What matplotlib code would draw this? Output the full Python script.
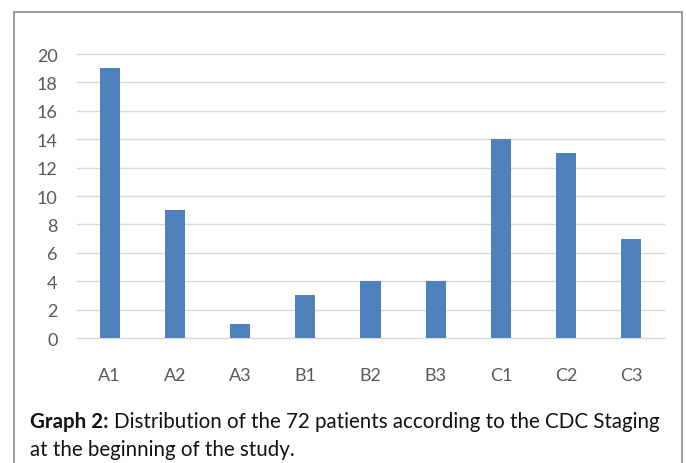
import matplotlib
matplotlib.use("Agg")
import matplotlib.pyplot as plt
from matplotlib.patches import Rectangle

stages = ["A1", "A2", "A3", "B1", "B2", "B3", "C1", "C2", "C3"]
patients = [19, 9, 1, 3, 4, 4, 14, 13, 7]
yticks = list(range(0, 21, 2))

W, H = 686, 464
fig = plt.figure(figsize=(W / 100, H / 100), dpi=100)
fig.patch.set_facecolor("white")

# outer frame of the figure box (open at the bottom)
fig.add_artist(Rectangle((14.5 / W, -0.05), (681.5 - 14.5) / W, 1.05 - 12.5 / H,
                         transform=fig.transFigure, fill=False,
                         edgecolor="#8c8c8c", lw=1.2))

ax = fig.add_axes([77 / W, 1 - 339 / H, (664 - 77) / W, (339 - 55) / H])
x = range(len(stages))
ax.bar(x, patients, width=0.31, color="#4f81bd", zorder=3)
ax.set_xlim(-0.5, len(stages) - 0.5)
ax.set_ylim(0, 20)
ax.set_yticks(yticks)
ax.set_xticks(list(x))
ax.set_xticklabels(stages)
ax.grid(axis="y", color="#d9d9d9", lw=1.0, zorder=0)
for s in ["top", "right", "left"]:
    ax.spines[s].set_visible(False)
ax.spines["bottom"].set_color("#d9d9d9")
ax.tick_params(length=0, labelsize=13, labelcolor="#595959")
ax.tick_params(axis="x", pad=21)
ax.tick_params(axis="y", pad=14)
for lab in ax.get_xticklabels() + ax.get_yticklabels():
    lab.set_family("Lato")
for line in ax.get_ygridlines():
    line.set_clip_on(False)

# caption
cap_size = 14.8
bold = fig.text(30 / W, 1 - 428 / H, "Graph 2:", fontsize=cap_size, fontweight="bold",
                family="Lato", va="baseline", ha="left", color="#111111")
fig.canvas.draw()
bb = bold.get_window_extent()
fig.text((bb.x1 + 5) / W, 1 - 428 / H,
         "Distribution of the 72 patients according to the CDC Staging",
         fontsize=cap_size, family="Lato", va="baseline", ha="left", color="#111111")
fig.text(30 / W, 1 - 456 / H, "at the beginning of the study.",
         fontsize=cap_size, family="Lato", va="baseline", ha="left", color="#111111")

fig.savefig("out.png", dpi=100)
